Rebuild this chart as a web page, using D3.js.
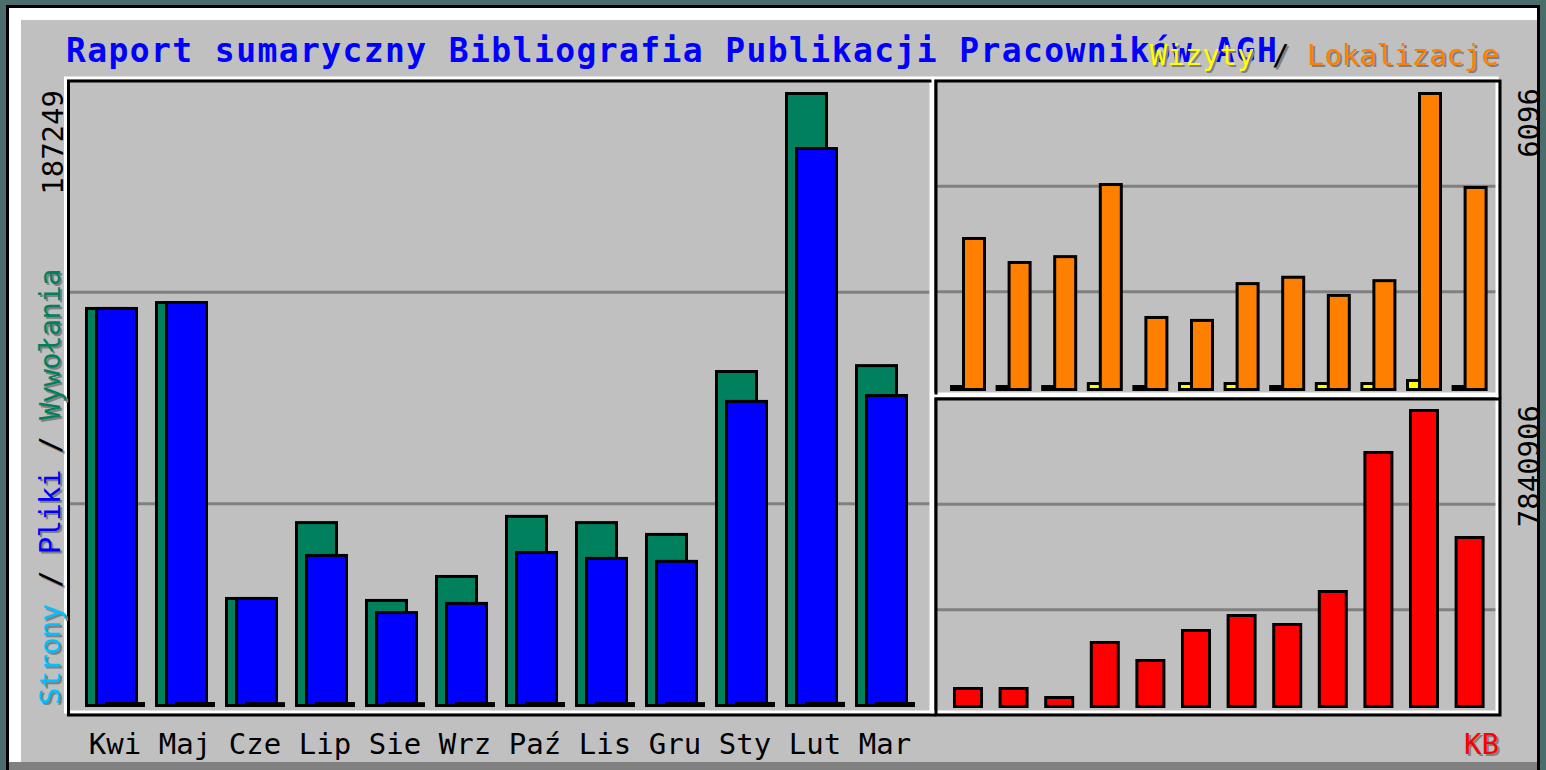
<!DOCTYPE html>
<html><head><meta charset="utf-8">
<script src="https://cdn.jsdelivr.net/npm/d3@7"></script>
<style>html,body{margin:0;padding:0;background:#4b6e6c;overflow:hidden}</style>
</head><body><svg id="c" width="1546" height="770"></svg>
<script>
const months = ["Kwi","Maj","Cze","Lip","Sie","Wrz","Paź","Lis","Gru","Sty","Lut","Mar"];
const hits   = [121800, 123600, 33500, 56600, 32900, 40200, 58500, 56600, 53000, 102600, 187249, 104400];
const files  = [121800, 123600, 33500, 46600, 29200, 32000, 47500, 45700, 44800, 93500, 170500, 95300];
const pages  = [1520, 1530, 1480, 1510, 1470, 1500, 1520, 1500, 1490, 1540, 1560, 1530];
const visits = [122, 122, 122, 183, 122, 183, 183, 122, 183, 183, 245, 122];
const sites  = [3140, 2650, 2770, 4240, 1530, 1470, 2220, 2350, 1980, 2280, 6096, 4180];
const kbytes = [550700, 550700, 314700, 1757000, 1285000, 2071700, 2465000, 2229000, 3094400, 6739600, 7840906, 4510500];
const titleText = "Raport sumaryczny Bibliografia Publikacji Pracowników AGH";
const leftLegend = [["Strony","#00c0ff"],[" / ","#000000"],["Pliki","#0000ff"],[" / ","#000000"],["Wywołania","#00805c"]];
const rightLegend = [["Wizyty","#ffff00"],[" / ","#000000"],["Lokalizacje","#ff8000"]];
const kbLabel = "KB";

const C = {bg:"#c0c0c0", grid:"#808080", shadow:"#808080", hits:"#00805c", files:"#0000ff",
           pages:"#00c0ff", visits:"#ffff00", sites:"#ff8000", kb:"#ff0000"};
const FONT = "'DejaVu Sans Mono', 'Liberation Mono', monospace";
const svg = d3.select("#c");

// outer image frame
svg.append("rect").attr("x",6).attr("y",5).attr("width",1534).attr("height",770).attr("fill","#000");
svg.append("rect").attr("x",9).attr("y",8).attr("width",1528).attr("height",762).attr("fill","#fff");
svg.append("rect").attr("x",21).attr("y",20).attr("width",1516).attr("height",742).attr("fill",C.bg);
svg.append("rect").attr("x",9).attr("y",762).attr("width",1528).attr("height",8).attr("fill","#808080");

// panels (white rect + black rect offset)
const panels = {
  main: {x1:65.5, y1:78, x2:931, y2:712},
  top:  {x1:933, y1:78, x2:1497, y2:394},
  bot:  {x1:933, y1:396, x2:1497, y2:712}
};
function gridFor(p){
  const y1 = p.y1+3, y2 = p.y2+3;
  [1,2].forEach(k=>{
    const y = y1 + (y2-y1)*k/3;
    svg.append("line").attr("x1",p.x1+4).attr("x2",p.x2+2).attr("y1",y).attr("y2",y)
      .attr("stroke",C.grid).attr("stroke-width",3);
  });
}
function frame(p){
  svg.append("rect").attr("x",p.x1).attr("y",p.y1).attr("width",p.x2-p.x1).attr("height",p.y2-p.y1)
    .attr("fill","none").attr("stroke","#fff").attr("stroke-width",3);
  svg.append("rect").attr("x",p.x1+3).attr("y",p.y1+3).attr("width",p.x2-p.x1).attr("height",p.y2-p.y1)
    .attr("fill","none").attr("stroke","#000").attr("stroke-width",3);
}
Object.values(panels).forEach(gridFor);
frame(panels.main); frame(panels.top); frame(panels.bot);

// scales
const xMain = d3.scaleBand().domain(months).range([85, 925]).padding(0);
const xRight = d3.scaleBand().domain(months).range([950, 1497.2]).padding(0);
const yMain = d3.scaleLinear().domain([0, d3.max(hits)]).range([707, 92]);
const yTop  = d3.scaleLinear().domain([0, d3.max(sites)]).range([391, 92]);
const yBot  = d3.scaleLinear().domain([0, d3.max(kbytes)]).range([708, 409]);

function bars(data, xs, dx, w, ys, color){
  const g = svg.append("g");
  const base = ys(0);
  g.selectAll("rect.o").data(data).join("rect")
    .attr("x",(d,i)=>xs(months[i])+dx).attr("y",d=>ys(d))
    .attr("width",w).attr("height",d=>base-ys(d)).attr("fill","#000");
  g.selectAll("rect.i").data(data).join("rect")
    .attr("x",(d,i)=>xs(months[i])+dx+3).attr("y",d=>ys(d)+3)
    .attr("width",w-6).attr("height",d=>Math.max(0, base-ys(d)-6)).attr("fill",color);
}
bars(hits, xMain, 0, 43, yMain, C.hits);
bars(files, xMain, 10, 43, yMain, C.files);
bars(pages, xMain, 20, 40, yMain, C.pages);
bars(visits, xRight, 0, 24, yTop, C.visits);
bars(sites, xRight, 12, 24, yTop, C.sites);
bars(kbytes, xRight, 3, 30, yBot, C.kb);

// title
svg.append("text").attr("x",66).attr("y",62).attr("font-family",FONT).attr("font-weight","bold")
  .attr("font-size",33).attr("letter-spacing",1.4).attr("fill","#0000ff").text(titleText);

// legend helper with shadow
function legend(parts, attrs, sh){
  [[sh.dx, sh.dy, true],[0,0,false]].forEach(([dx,dy,isSh])=>{
    const t = svg.append("text").attr("font-family",FONT).attr("font-size",29)
      .attr("xml:space","preserve").style("white-space","pre");
    Object.entries(attrs).forEach(([k,v])=>{ if(!["rot","px","py"].includes(k)) t.attr(k,v); });
    t.attr("transform", attrs.rot ? `translate(${attrs.px+dx},${attrs.py+dy}) rotate(-90)` : `translate(${dx},${dy})`);
    parts.forEach(([s,col])=>t.append("tspan").attr("fill", isSh ? C.shadow : col).text(s));
  });
}
legend(rightLegend, {x:1499, y:65, "text-anchor":"end"}, {dx:2, dy:2});
legend(leftLegend, {rot:true, px:60, py:705, x:0, y:0, "text-anchor":"start", "letter-spacing":-0.7}, {dx:2, dy:2});
legend([[kbLabel, C.kb]], {x:1499, y:754, "text-anchor":"end"}, {dx:2, dy:2});

// month labels
svg.append("g").selectAll("text").data(months).join("text")
  .attr("x",d=>xMain(d)+30).attr("y",754).attr("text-anchor","middle")
  .attr("font-family",FONT).attr("font-size",29).attr("fill","#000").text(d=>d);

// max labels (rotated)
function maxLabel(val, x, y){
  svg.append("text").attr("transform",`translate(${x},${y}) rotate(-90)`).attr("text-anchor","end")
    .attr("font-family",FONT).attr("font-size",29).attr("fill","#000").text(val);
}
maxLabel(d3.max(hits), 63, 90);
maxLabel(d3.max(sites), 1539, 88);
maxLabel(d3.max(kbytes), 1539, 405);
</script></body></html>
